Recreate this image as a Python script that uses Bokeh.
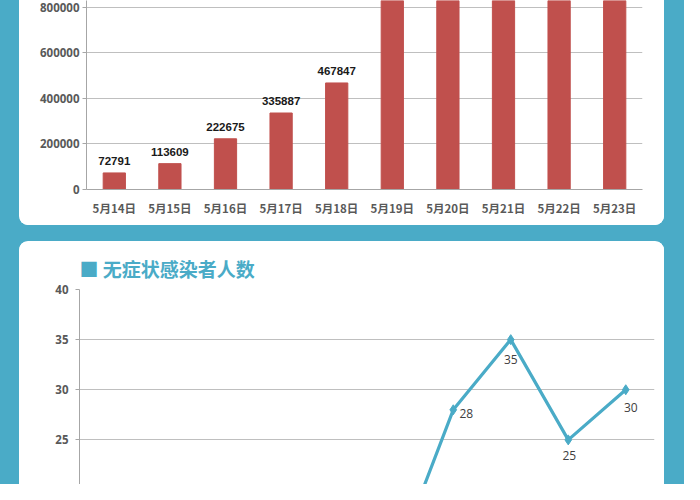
from bokeh.plotting import figure
from bokeh.layouts import column
from bokeh.models import Range1d, FixedTicker, NumeralTickFormatter, ColumnDataSource
from bokeh.core.properties import value
from bokeh.embed import file_html
from bokeh.resources import INLINE

# ---- data ----
dates = ["5月14日", "5月15日", "5月16日", "5月17日", "5月18日",
         "5月19日", "5月20日", "5月21日", "5月22日", "5月23日"]
cases = [72791, 113609, 222675, 335887, 467847,
         980000, 1100000, 1210000, 1320000, 1420000]
asym = [9, 12, 10, 15, 11, 13, 28, 35, 25, 30]
y1_ticks = [0, 200000, 400000, 600000, 800000]
y2_ticks = [20, 25, 30, 35, 40]
title2 = "■ 无症状感染者人数"

TEAL = "#4aabc7"
RED = "#c0504d"
GRID = "#bfbfbf"
AXIS = "#a6a6a6"
LBL = "#595959"

Y1 = (0, 830000)
Y2 = (20.55, 40)

# ---- top bar chart ----
src1 = ColumnDataSource(dict(d=dates, v=cases))
vis1 = [(d, v) for d, v in zip(dates, cases) if v < Y1[1]]
lab1 = ColumnDataSource(dict(d=[a for a, _ in vis1], v=[b for _, b in vis1],
                             t=[str(b) for _, b in vis1]))
p1 = figure(x_range=dates, y_range=Range1d(*Y1), width=645, height=225,
            output_backend="svg", toolbar_location=None,
            min_border_left=67, min_border_right=22, min_border_top=0, min_border_bottom=36,
            margin=(0, 20, 16, 19), border_fill_color="white", background_fill_color="white",
            outline_line_color=None,
            styles={"border-radius": "0 0 9px 9px", "overflow": "hidden",
                    "background-color": "white"})
p1.vbar(x="d", top="v", width=0.4, color=RED, source=src1)
p1.text(x="d", y="v", text="t", source=lab1, text_align="center", text_baseline="bottom",
        y_offset=-8, text_font_size="11.5px", text_font_style="bold", text_color="#1a1a1a",
        text_font=value("Liberation Sans"))
p1.xgrid.visible = False
p1.ygrid.grid_line_color = GRID
p1.ygrid.grid_line_width = 1.2
p1.yaxis.ticker = FixedTicker(ticks=y1_ticks)
p1.yaxis.formatter = NumeralTickFormatter(format="0")
for ax in (p1.xaxis, p1.yaxis):
    ax.axis_line_color = AXIS
    ax.major_tick_line_color = AXIS
    ax.minor_tick_line_color = None
    ax.major_tick_in = 0
    ax.major_label_text_color = LBL
p1.yaxis.major_tick_out = 4
p1.yaxis.major_label_standoff = 3
p1.yaxis.major_label_text_font_size = "11.5px"
p1.yaxis.major_label_text_font = "Open Sans"
p1.yaxis.major_label_text_font_style = "bold"
p1.xaxis.major_tick_line_color = None
p1.xaxis.major_tick_out = 4
p1.xaxis.major_label_standoff = 6
p1.xaxis.major_label_text_font_size = "11.5px"
p1.xaxis.major_label_text_font = "Noto Sans CJK SC"
p1.xaxis.major_label_text_font_style = "bold"

# ---- bottom line chart ----
src2 = ColumnDataSource(dict(d=dates, v=asym))
lbl_dx = [0, 0, 0, 0, 0, 0, 13, 0, 1, 5]
lbl_dy = [16, 16, 16, 16, 16, 16, 4, 20, 16, 18]
vis2 = [i for i, a in enumerate(asym) if a > Y2[0]]
lab2 = ColumnDataSource(dict(d=[dates[i] for i in vis2], v=[asym[i] for i in vis2],
                             t=[str(asym[i]) for i in vis2],
                             dx=[lbl_dx[i] for i in vis2], dy=[lbl_dy[i] for i in vis2]))
p2 = figure(x_range=dates, y_range=Range1d(*Y2), width=645, height=243,
            output_backend="svg", toolbar_location=None,
            min_border_left=60, min_border_right=10, min_border_top=48, min_border_bottom=0,
            margin=(0, 20, 0, 19), border_fill_color="white", background_fill_color="white",
            outline_line_color=None,
            styles={"border-radius": "9px 9px 0 0", "overflow": "hidden",
                    "background-color": "white"})
p2.title.text = title2
p2.title.text_color = TEAL
p2.title.text_font = "Noto Sans CJK SC"
p2.title.text_font_size = "19px"
p2.title.text_font_style = "bold"
p2.title.align = "left"
p2.title.standoff = 15
p2.line(x="d", y="v", source=src2, line_color=TEAL, line_width=3.2)
p2.scatter(x="d", y="v", source=src2, marker="diamond", size=10, color=TEAL)
p2.text(x="d", y="v", text="t", source=lab2, x_offset="dx", y_offset="dy",
        text_align="center", text_baseline="middle", text_font_size="12px",
        text_color="#404040", text_font=value("Open Sans"))
p2.xaxis.visible = False
p2.xgrid.visible = False
p2.ygrid.grid_line_color = GRID
p2.ygrid.grid_line_width = 1.2
p2.yaxis.ticker = FixedTicker(ticks=y2_ticks)
p2.yaxis.axis_line_color = AXIS
p2.yaxis.major_tick_line_color = AXIS
p2.yaxis.minor_tick_line_color = None
p2.yaxis.major_tick_in = 0
p2.yaxis.major_tick_out = 4
p2.yaxis.major_label_standoff = 7
p2.yaxis.major_label_text_color = LBL
p2.yaxis.major_label_text_font_size = "11.5px"
p2.yaxis.major_label_text_font = "Open Sans"
p2.yaxis.major_label_text_font_style = "bold"

box1 = column(p1, width=684, height=241)
box2 = column(p2, width=684, height=243)
p = column(box1, box2, width=684, height=484, styles={"background-color": TEAL})

open("out.html", "w").write(file_html(p, INLINE))
